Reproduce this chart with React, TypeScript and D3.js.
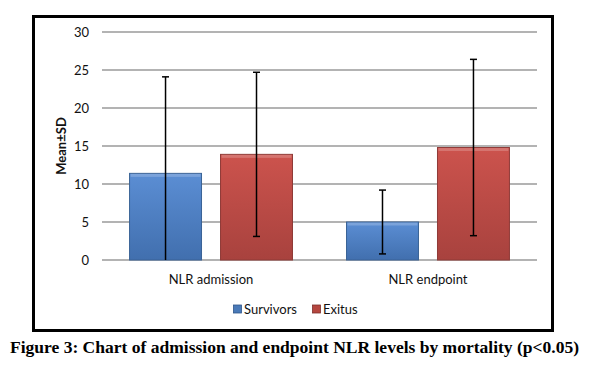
import React from "react";
import * as d3 from "d3";

const categories = ["NLR admission", "NLR endpoint"];
const seriesNames = ["Survivors", "Exitus"];
const survivorsMean = [11.4, 5.0];
const survivorsSD = [12.7, 4.2];
const exitusMean = [13.9, 14.8];
const exitusSD = [10.8, 11.6];
const yTicks = [0, 5, 10, 15, 20, 25, 30];

const W = 596;
const H = 391;

export default function App() {
  const plotLeft = 102, plotRight = 537, plotTop = 32, plotBottom = 260;
  const y = d3.scaleLinear().domain([0, 30]).range([plotBottom, plotTop]);
  const x0 = d3.scaleBand().domain(categories).range([plotLeft, plotRight]).paddingInner(0.249).paddingOuter(0.127);
  const x1 = d3.scaleBand().domain(seriesNames).range([0, x0.bandwidth()]).paddingInner(0.209).paddingOuter(0);

  const series = [
    { name: "Survivors", mean: survivorsMean, sd: survivorsSD, grad: "gBlue", stroke: "#3a6396", legend: "#4a7ab8" },
    { name: "Exitus", mean: exitusMean, sd: exitusSD, grad: "gRed", stroke: "#8f3a37", legend: "#b5463f" },
  ];
  const font = "Lato, 'Open Sans', sans-serif";

  return (
    <svg width={W} height={H} style={{ position: "absolute", left: 0, top: 0, background: "#fff" }}>
      <defs>
        <linearGradient id="gBlue" x1="0" y1="0" x2="0" y2="1">
          <stop offset="0" stopColor="#5b8ed4" />
          <stop offset="1" stopColor="#416fae" />
        </linearGradient>
        <linearGradient id="gRed" x1="0" y1="0" x2="0" y2="1">
          <stop offset="0" stopColor="#cc534d" />
          <stop offset="1" stopColor="#a8423e" />
        </linearGradient>
      </defs>
      <rect x={0} y={0} width={W} height={H} fill="#fff" />
      <rect x={33.5} y={16.5} width={519} height={314} fill="#fff" stroke="#000" strokeWidth={3} />
      {yTicks.map((t) => (
        <g key={t}>
          <line x1={plotLeft} x2={plotRight} y1={y(t)} y2={y(t)} stroke="#9a9a9a" strokeWidth={1.5} />
          <text x={89} y={y(t)} dy="0.35em" textAnchor="end" fontFamily={font} fontSize={13} fill="#111">{t}</text>
        </g>
      ))}
      <text transform={`translate(66,${(plotTop + plotBottom) / 2}) rotate(-90)`} textAnchor="middle" fontFamily={font} fontSize={13} fontWeight="bold" fill="#111">Mean±SD</text>
      {series.map((s) =>
        categories.map((c, i) => {
          const bx = (x0(c) as number) + (x1(s.name) as number);
          const bw = x1.bandwidth();
          const m = s.mean[i];
          const top = y(m);
          const cx = bx + bw / 2;
          const hi = y(m + s.sd[i]);
          const lo = y(Math.max(0, m - s.sd[i]));
          const clipped = m - s.sd[i] < 0;
          return (
            <g key={s.name + c}>
              <rect x={bx} y={top} width={bw} height={plotBottom - top} fill={`url(#${s.grad})`} stroke={s.stroke} strokeWidth={1} />
              <rect x={bx + 1} y={top + 0.5} width={bw - 2} height={3} fill="#fff" opacity={0.2} />
              <line x1={cx} x2={cx} y1={hi} y2={lo} stroke="#000" strokeWidth={1.5} />
              <line x1={cx - 3.5} x2={cx + 3.5} y1={hi} y2={hi} stroke="#000" strokeWidth={1.5} />
              {!clipped && <line x1={cx - 3.5} x2={cx + 3.5} y1={lo} y2={lo} stroke="#000" strokeWidth={1.5} />}
            </g>
          );
        })
      )}
      {categories.map((c) => (
        <text key={c} x={(x0(c) as number) + x0.bandwidth() / 2} y={279} dy="0.35em" textAnchor="middle" fontFamily={font} fontSize={13} fill="#111">{c}</text>
      ))}
      <g>
        <rect x={233.5} y={305} width={8} height={8} fill={series[0].legend} stroke="#2f5589" strokeWidth={0.8} />
        <text x={244} y={309} dy="0.35em" fontFamily={font} fontSize={13} fill="#111">{seriesNames[0]}</text>
        <rect x={312.5} y={305} width={8} height={8} fill={series[1].legend} stroke="#7d2f2c" strokeWidth={0.8} />
        <text x={323} y={309} dy="0.35em" fontFamily={font} fontSize={13} fill="#111">{seriesNames[1]}</text>
      </g>
      <text x={10} y={353} fontFamily="'Liberation Serif', 'Times New Roman', serif" fontWeight="bold" fontSize={17} fill="#000" textLength={569} lengthAdjust="spacingAndGlyphs">Figure 3: Chart of admission and endpoint NLR levels by mortality (p&lt;0.05)</text>
    </svg>
  );
}
